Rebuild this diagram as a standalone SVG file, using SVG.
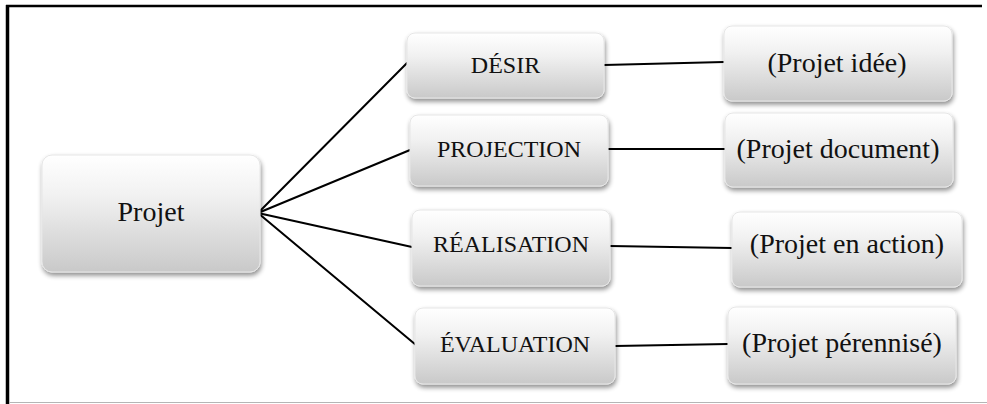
<svg xmlns="http://www.w3.org/2000/svg" width="987" height="404" viewBox="0 0 987 404">
<style>
  .box { fill: url(#g); stroke: #e6e6e6; stroke-width: 1; filter: url(#sh); }
  .hl { fill: none; stroke: #ffffff; stroke-width: 2; opacity: 0.9; }
  .t { font-family: "Liberation Serif", "Times New Roman", serif; fill: #111; text-anchor: middle; }
  .t28 { font-size: 28px; }
  .t24 { font-size: 24px; }
  .c { stroke: #000; stroke-width: 2; fill: none; stroke-linecap: round; }
</style>
<defs>
  <linearGradient id="g" x1="0" y1="0" x2="0" y2="1">
    <stop offset="0" stop-color="#ffffff"/>
    <stop offset="0.35" stop-color="#f1f1f1"/>
    <stop offset="1" stop-color="#c9c9c9"/>
  </linearGradient>
  <filter id="sh" x="-10%" y="-10%" width="125%" height="135%">
    <feGaussianBlur in="SourceAlpha" stdDeviation="2.5"/>
    <feOffset dx="1" dy="3" result="b"/>
    <feComponentTransfer><feFuncA type="linear" slope="0.45"/></feComponentTransfer>
    <feMerge><feMergeNode/><feMergeNode in="SourceGraphic"/></feMerge>
  </filter>
</defs>
<rect width="987" height="404" fill="#ffffff"/>
<g id="frame">
  <line x1="7.5" y1="5" x2="7.5" y2="404" stroke="#000" stroke-width="3.5"/>
  <line x1="6" y1="6" x2="982" y2="6" stroke="#000" stroke-width="2.5"/>
  <line x1="9" y1="402.5" x2="987" y2="402.5" stroke="#b5b5b5" stroke-width="1"/>
</g>
<g id="connectors">
  <line class="c" x1="258" y1="213" x2="407" y2="63"/>
  <line class="c" x1="258" y1="213" x2="410" y2="150"/>
  <line class="c" x1="258" y1="213" x2="412" y2="247"/>
  <line class="c" x1="258" y1="213" x2="416" y2="345"/>
  <line class="c" x1="604" y1="65" x2="724" y2="62"/>
  <line class="c" x1="608" y1="149" x2="725" y2="149"/>
  <line class="c" x1="610" y1="246" x2="732" y2="248"/>
  <line class="c" x1="615" y1="346" x2="728" y2="344"/>
</g>
<g id="node-projet">
  <rect class="box" x="42" y="155" width="218" height="117" rx="10"/>
  <text class="t t28" x="151" y="221">Projet</text>
</g>
<g id="node-desir">
  <rect class="box" x="407" y="33" width="197" height="65" rx="8"/>
  <text class="t t24" x="505.5" y="73">DÉSIR</text>
</g>
<g id="node-projection">
  <rect class="box" x="410" y="115" width="198" height="71" rx="8"/>
  <text class="t t24" x="509" y="157">PROJECTION</text>
</g>
<g id="node-realisation">
  <rect class="box" x="412" y="210" width="198" height="76" rx="8"/>
  <text class="t t24" x="511" y="252">RÉALISATION</text>
</g>
<g id="node-evaluation">
  <rect class="box" x="415" y="308" width="200" height="76" rx="8"/>
  <text class="t t24" x="515" y="352">ÉVALUATION</text>
</g>
<g id="node-idee">
  <rect class="box" x="724" y="26" width="228" height="75" rx="8"/>
  <text class="t t28" x="837" y="72">(Projet idée)</text>
</g>
<g id="node-document">
  <rect class="box" x="725" y="113" width="228" height="74" rx="8"/>
  <text class="t t28" x="838" y="158">(Projet document)</text>
</g>
<g id="node-action">
  <rect class="box" x="732" y="212" width="230" height="75" rx="8"/>
  <text class="t t28" x="847" y="253">(Projet en action)</text>
</g>
<g id="node-perennise">
  <rect class="box" x="728" y="307" width="228" height="77" rx="8"/>
  <text class="t t28" x="842" y="352">(Projet pérennisé)</text>
</g>
</svg>
